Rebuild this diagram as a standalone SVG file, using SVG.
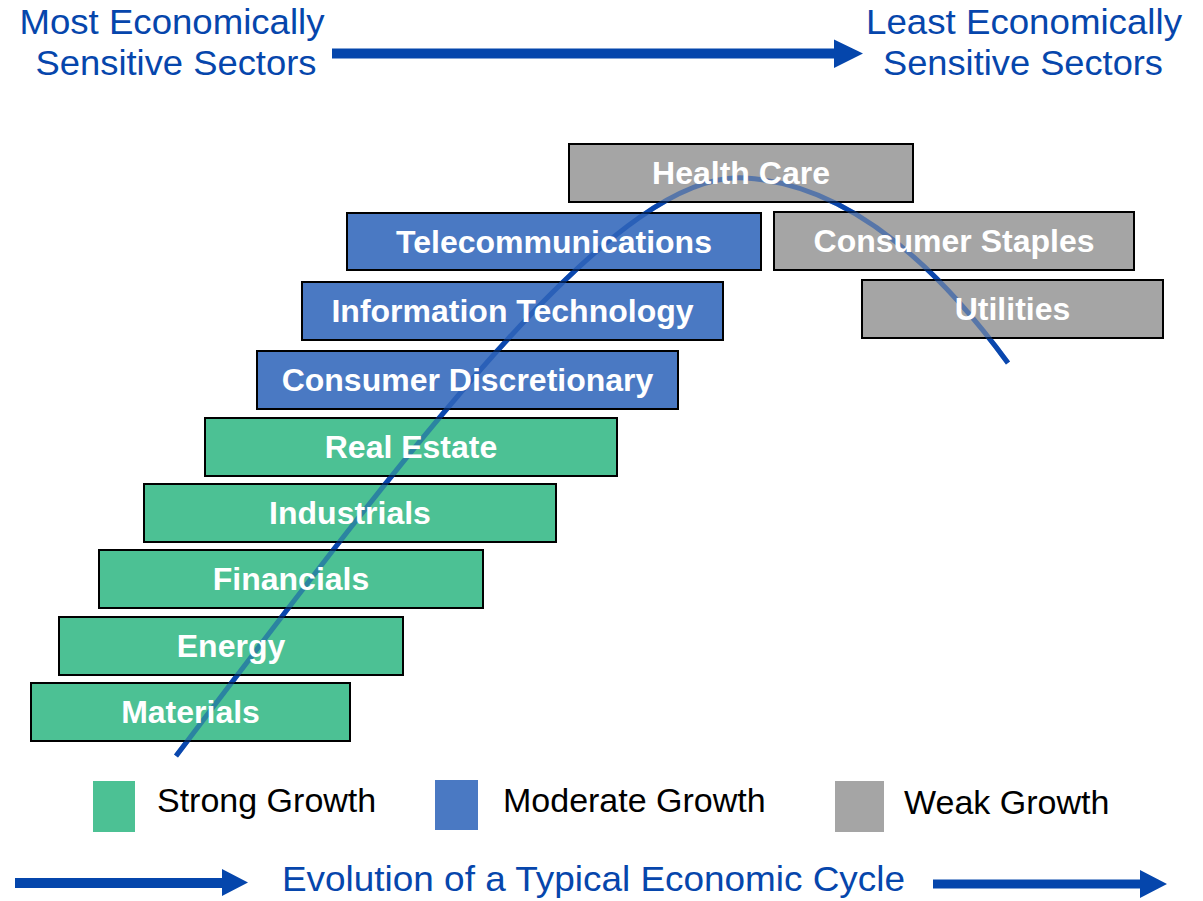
<svg xmlns="http://www.w3.org/2000/svg" width="1203" height="901" viewBox="0 0 1203 901">
<style>
.box{stroke:#000;stroke-width:2}
.g{fill:#4CC194}
.b{fill:#4A79C3}
.s{fill:#A5A5A5}
.lbl{font-family:"Liberation Sans",Arial,sans-serif;font-weight:bold;font-size:32px;fill:#fff;text-anchor:middle}
.hdr{font-family:"Liberation Sans",Arial,sans-serif;font-size:35.5px;fill:#0646AC;text-anchor:middle}
.ftr{font-family:"Liberation Sans",Arial,sans-serif;font-size:35px;fill:#0646AC;text-anchor:middle}
.leg{font-family:"Liberation Sans",Arial,sans-serif;font-size:34px;fill:#000}
.arr{fill:#0546AC}
.curve{fill:none;stroke:#0A47AE;stroke-width:5}
</style>
<defs>
<path id="cyc" d="M176,756 C430,420 620,170 745,178 C850,184 940,270 1008,363"/>
</defs>
<rect width="1203" height="901" fill="#fff"/>

<g id="header">
<text class="hdr" x="172" y="34" textLength="305" lengthAdjust="spacingAndGlyphs">Most Economically</text>
<text class="hdr" x="176" y="75" textLength="281" lengthAdjust="spacingAndGlyphs">Sensitive Sectors</text>
<text class="hdr" x="1024" y="34" textLength="316" lengthAdjust="spacingAndGlyphs">Least Economically</text>
<text class="hdr" x="1023" y="75" textLength="280" lengthAdjust="spacingAndGlyphs">Sensitive Sectors</text>
</g>

<g id="connectors">
<path class="arr" d="M332,48.5 L834,48.5 L834,39.5 L863,53.5 L834,68 L834,58.5 L332,58.5 Z"/>
<path class="arr" d="M15,878 L222,878 L222,869 L248,882.5 L222,896 L222,888 L15,888 Z"/>
<path class="arr" d="M933,879.5 L1140,879.5 L1140,870 L1167,884 L1140,898 L1140,888.5 L933,888.5 Z"/>
<use href="#cyc" class="curve"/>
</g>

<g id="boxes">
<g id="health-care"><rect class="box s" x="569" y="144" width="344" height="58"/></g>
<g id="telecommunications"><rect class="box b" x="347" y="213" width="414" height="57"/></g>
<g id="consumer-staples"><rect class="box s" x="774" y="212" width="360" height="58"/></g>
<g id="information-technology"><rect class="box b" x="302" y="282" width="421" height="58"/></g>
<g id="utilities"><rect class="box s" x="862" y="280" width="301" height="58"/></g>
<g id="consumer-discretionary"><rect class="box b" x="257" y="351" width="421" height="58"/></g>
<g id="real-estate"><rect class="box g" x="205" y="418" width="412" height="58"/></g>
<g id="industrials"><rect class="box g" x="144" y="484" width="412" height="58"/></g>
<g id="financials"><rect class="box g" x="99" y="550" width="384" height="58"/></g>
<g id="energy"><rect class="box g" x="59" y="617" width="344" height="58"/></g>
<g id="materials"><rect class="box g" x="31" y="683" width="319" height="58"/></g>
</g>

<use href="#cyc" class="curve" stroke-opacity="0.5"/>

<g id="labels">
<text class="lbl" x="741" y="184">Health Care</text>
<text class="lbl" x="554" y="253">Telecommunications</text>
<text class="lbl" x="954" y="252">Consumer Staples</text>
<text class="lbl" x="512.5" y="322">Information Technology</text>
<text class="lbl" x="1012.5" y="320">Utilities</text>
<text class="lbl" x="467.5" y="391">Consumer Discretionary</text>
<text class="lbl" x="411" y="458">Real Estate</text>
<text class="lbl" x="350" y="524">Industrials</text>
<text class="lbl" x="291" y="590">Financials</text>
<text class="lbl" x="231" y="657">Energy</text>
<text class="lbl" x="190.5" y="723">Materials</text>
</g>

<g id="legend">
<g id="legend-strong"><rect class="g" x="93" y="781" width="42" height="51"/><text class="leg" x="157" y="812">Strong Growth</text></g>
<g id="legend-moderate"><rect class="b" x="435" y="780" width="43" height="50"/><text class="leg" x="503" y="812">Moderate Growth</text></g>
<g id="legend-weak"><rect class="s" x="835" y="781" width="49" height="51"/><text class="leg" x="904" y="814">Weak Growth</text></g>
</g>

<g id="footer">
<text class="ftr" x="593.5" y="891" textLength="623" lengthAdjust="spacingAndGlyphs">Evolution of a Typical Economic Cycle</text>
</g>
</svg>
